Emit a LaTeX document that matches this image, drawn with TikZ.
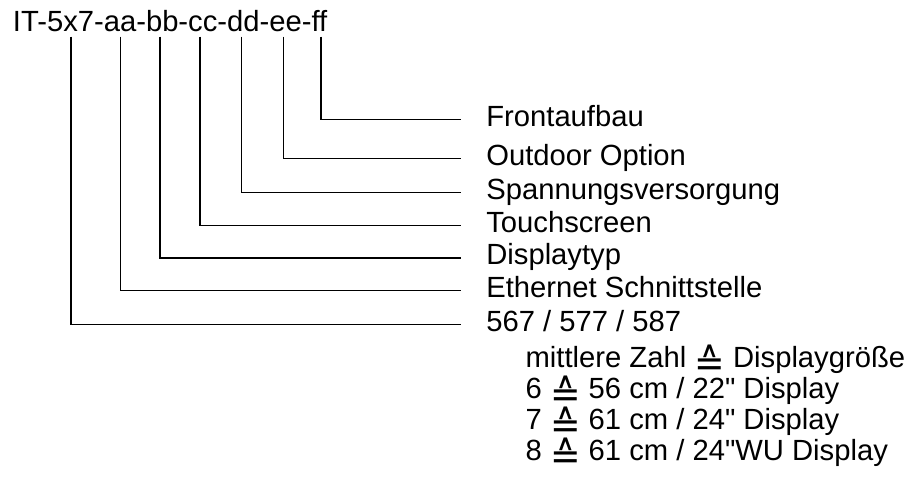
\documentclass[tikz,border=0pt]{standalone}
\usepackage{fontspec}
\setmainfont{Liberation Sans}[Ligatures=TeXOff]
\newfontfamily\symfont{DejaVu Sans}
\newcommand{\entspr}{\raisebox{-9pt}[20pt][0pt]{\scalebox{1.25}[1.33]{\symfont ≙}}}

\begin{document}
\begin{tikzpicture}[x=1pt,y=1pt,line width=1.3pt,font=\fontsize{29.2}{34}\selectfont,
	lbl/.style={anchor=west,inner xsep=24.4pt,inner ysep=0pt,text height=21pt,text depth=7pt},
	sub/.style={anchor=base west,inner sep=0pt}]
	\useasboundingbox (0,0) rectangle (912,-478);
	% type code
	\node[anchor=base west,inner sep=0pt] (code) at (12.3,-31.7) {IT-5x7-aa-bb-cc-dd-ee-ff};
	% upper ends of the leader lines, below the code
	\coordinate (tsz) at (71,-36.7);% 5x7
	\coordinate (taa) at (120.3,-36.7);% aa
	\coordinate (tbb) at (160,-36.7);% bb
	\coordinate (tcc) at (200,-36.7);% cc
	\coordinate (tdd) at (241.7,-36.7);% dd
	\coordinate (tee) at (283.3,-36.7);% ee
	\coordinate (tff) at (321,-36.7);% ff
	% labels, the line ends at their west side
	\node[lbl] (lff) at (461.3,-119.3) {Frontaufbau};
	\node[lbl] (lee) at (461.3,-158.3) {Outdoor Option};
	\node[lbl] (ldd) at (461.3,-192.7) {Spannungsversorgung};
	\node[lbl] (lcc) at (461.3,-225.3) {Touchscreen};
	\node[lbl] (lbb) at (461.3,-258) {Displaytyp};
	\node[lbl] (laa) at (461.3,-290.3) {Ethernet Schnittstelle};
	\node[lbl] (lsz) at (461.3,-324.3) {567 / 577 / 587};
	% explanation of the size digit
	\node[sub] (s0) at (525,-367) {mittlere Zahl \entspr\ Displaygröße};
	\node[sub] (s6) at (525,-398) {6 \entspr\ 56 cm / 22" Display};
	\node[sub] (s7) at (525,-429) {7 \entspr\ 61 cm / 24" Display};
	\node[sub] (s8) at (525,-460) {8 \entspr\ 61 cm / 24"WU Display};
	% leader lines
	\draw (tff) |- (lff.west);
	\draw (tee) |- (lee.west);
	\draw (tdd) |- (ldd.west);
	\draw (tcc) |- (lcc.west);
	\draw (tbb) |- (lbb.west);
	\draw (taa) |- (laa.west);
	\draw (tsz) |- (lsz.west);
\end{tikzpicture}
\end{document}
